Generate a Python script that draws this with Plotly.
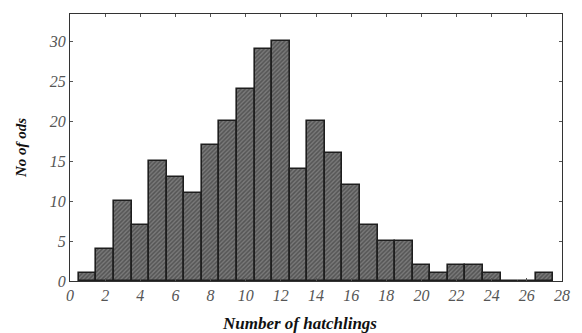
import plotly.graph_objects as go

# Clutch-size frequency distribution
hatchlings = list(range(1, 28))
counts = [1, 4, 10, 7, 15, 13, 11, 17, 20, 24, 29, 30, 14, 20, 16, 12,
          7, 5, 5, 2, 1, 2, 2, 1, 0, 0, 1]
x_ticks = list(range(0, 29, 2))
y_ticks = [0, 5, 10, 15, 20, 25, 30]

tick_font = dict(family="Liberation Serif", size=16, color="#555555")
title_font = dict(family="Liberation Serif", size=15, color="#111111")

fig = go.Figure(
    go.Bar(
        x=hatchlings,
        y=counts,
        width=1,
        marker=dict(
            color="#666666",
            line=dict(color="#1e1e1e", width=1.6),
            pattern=dict(shape="/", fgcolor="#2e2e2e", bgcolor="#7a7a7a",
                         size=3, solidity=0.5),
        ),
        showlegend=False,
    )
)

fig.update_layout(
    width=582,
    height=333,
    margin=dict(l=70, r=13, t=14, b=52),
    paper_bgcolor="white",
    plot_bgcolor="white",
    bargap=0,
    annotations=[
        dict(
            text="<b><i>Number of hatchlings</i></b>",
            xref="paper", yref="paper",
            x=0.467, y=-0.161,
            xanchor="center", yanchor="middle",
            showarrow=False,
            font=dict(family="Liberation Serif", size=17, color="#111111"),
        )
    ],
)

fig.update_xaxes(
    range=[0, 28],
    tickvals=x_ticks,
    ticktext=[f"<i>{v}</i>" for v in x_ticks],
    tickfont=tick_font,
    showgrid=False,
    zeroline=False,
    showline=True,
    linecolor="#333333",
    linewidth=1.2,
    mirror="allticks",
    ticks="inside",
    ticklen=3,
    tickcolor="#555555",
)

fig.update_yaxes(
    range=[0, 33.4],
    tickvals=y_ticks,
    ticktext=[f"<i>{v}</i>" for v in y_ticks],
    tickfont=tick_font,
    showgrid=False,
    zeroline=False,
    showline=True,
    linecolor="#333333",
    linewidth=1.2,
    mirror="allticks",
    ticks="inside",
    ticklen=3,
    tickcolor="#555555",
    title=dict(text="<b><i>No of ods</i></b>", font=title_font, standoff=18),
)

fig.write_html("out.html")
